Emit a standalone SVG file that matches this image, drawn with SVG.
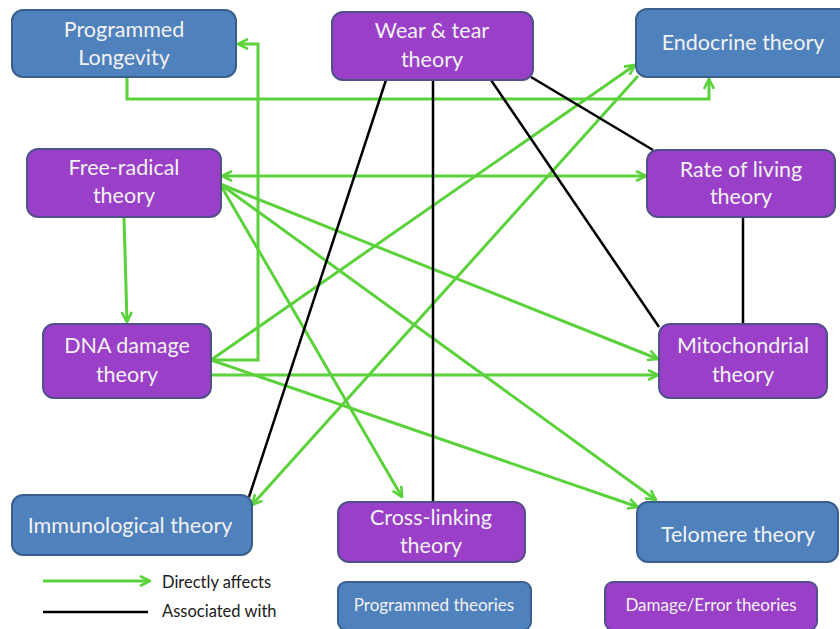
<svg xmlns="http://www.w3.org/2000/svg" width="840" height="629" viewBox="0 0 840 629">
<style>
.blue{fill:#4F81BD;stroke:#3A5F8E;stroke-width:2}
.purple{fill:#9A3FC8;stroke:#52508A;stroke-width:2}
.t{font-family:Lato,"Liberation Sans",sans-serif;font-size:21.5px;fill:#F2F2F2;text-anchor:middle}
.ts{font-family:Lato,"Liberation Sans",sans-serif;font-size:17px;fill:#F2F2F2;text-anchor:middle}
.lg{font-family:Lato,"Liberation Sans",sans-serif;font-size:16.5px;fill:#1a1a1a}
.g{fill:none;stroke:#5BD13B;stroke-width:3}
.k{fill:none;stroke:#000;stroke-width:2.5}
</style>
<defs>
<marker id="ah" viewBox="0 0 12 12" refX="11" refY="6" markerWidth="12" markerHeight="12" markerUnits="userSpaceOnUse" orient="auto-start-reverse">
<path d="M1,1 L11,6 L1,11" fill="none" stroke="#5BD13B" stroke-width="2.6"/>
</marker>
</defs>
<g id="connectors">
<polyline class="g" points="127,77 127,99 709,99 709,79" marker-end="url(#ah)"/>
<polyline class="g" points="211,360 258,360 258,44 238,44" marker-end="url(#ah)"/>
<line class="g" x1="124" y1="217" x2="127" y2="322" marker-end="url(#ah)"/>
<line class="g" x1="222" y1="176" x2="646" y2="176" marker-start="url(#ah)" marker-end="url(#ah)"/>
<line class="g" x1="220" y1="184" x2="658" y2="359" marker-end="url(#ah)"/>
<line class="g" x1="220" y1="184" x2="656" y2="500" marker-end="url(#ah)"/>
<line class="g" x1="220" y1="184" x2="402" y2="497" marker-end="url(#ah)"/>
<line class="g" x1="211" y1="360" x2="635" y2="65" marker-end="url(#ah)"/>
<line class="g" x1="211" y1="360" x2="638" y2="507" marker-end="url(#ah)"/>
<line class="g" x1="211" y1="375" x2="658" y2="375" marker-end="url(#ah)"/>
<line class="g" x1="638" y1="76" x2="252" y2="505" marker-end="url(#ah)"/>
<line class="k" x1="386" y1="80" x2="249" y2="497"/>
<line class="k" x1="433" y1="80" x2="433" y2="502"/>
<line class="k" x1="491" y1="80" x2="659" y2="327"/>
<line class="k" x1="531" y1="77" x2="653" y2="150"/>
<line class="k" x1="743" y1="217" x2="743" y2="324"/>
</g>
<g id="programmed-longevity">
<rect class="blue" x="12" y="10" width="224" height="67" rx="11"/>
<text class="t" x="124" y="37">Programmed</text>
<text class="t" x="124" y="65">Longevity</text>
</g>
<g id="wear-tear">
<rect class="purple" x="332" y="12" width="201" height="68" rx="11"/>
<text class="t" x="432" y="38">Wear &amp; tear</text>
<text class="t" x="432" y="67">theory</text>
</g>
<g id="endocrine">
<rect class="blue" x="636" y="9" width="214" height="68" rx="11"/>
<text class="t" x="743" y="50">Endocrine theory</text>
</g>
<g id="free-radical">
<rect class="purple" x="27" y="149" width="194" height="68" rx="11"/>
<text class="t" x="124" y="175">Free-radical</text>
<text class="t" x="124" y="203">theory</text>
</g>
<g id="rate-of-living">
<rect class="purple" x="647" y="150" width="188" height="67" rx="11"/>
<text class="t" x="741" y="177">Rate of living</text>
<text class="t" x="741" y="204">theory</text>
</g>
<g id="dna-damage">
<rect class="purple" x="43" y="324" width="168" height="74" rx="11"/>
<text class="t" x="127" y="353">DNA damage</text>
<text class="t" x="127" y="382">theory</text>
</g>
<g id="mitochondrial">
<rect class="purple" x="659" y="324" width="168" height="74" rx="11"/>
<text class="t" x="743" y="353">Mitochondrial</text>
<text class="t" x="743" y="382">theory</text>
</g>
<g id="immunological">
<rect class="blue" x="12" y="495" width="240" height="60" rx="11"/>
<text class="t" x="130" y="533">Immunological theory</text>
</g>
<g id="cross-linking">
<rect class="purple" x="338" y="502" width="187" height="60" rx="11"/>
<text class="t" x="431" y="525">Cross-linking</text>
<text class="t" x="431" y="553">theory</text>
</g>
<g id="telomere">
<rect class="blue" x="637" y="502" width="201" height="60" rx="11"/>
<text class="t" x="738" y="542">Telomere theory</text>
</g>
<g id="legend">
<line class="g" x1="43" y1="581" x2="150" y2="581" marker-end="url(#ah)"/>
<text class="lg" x="162" y="588">Directly affects</text>
<line class="k" x1="43" y1="612" x2="148" y2="612"/>
<text class="lg" x="162" y="617">Associated with</text>
<rect class="blue" x="338" y="582" width="193" height="48" rx="8"/>
<text class="ts" x="434" y="611">Programmed theories</text>
<rect class="purple" x="605" y="582" width="212" height="48" rx="8"/>
<text class="ts" x="711" y="611">Damage/Error theories</text>
</g>
</svg>
